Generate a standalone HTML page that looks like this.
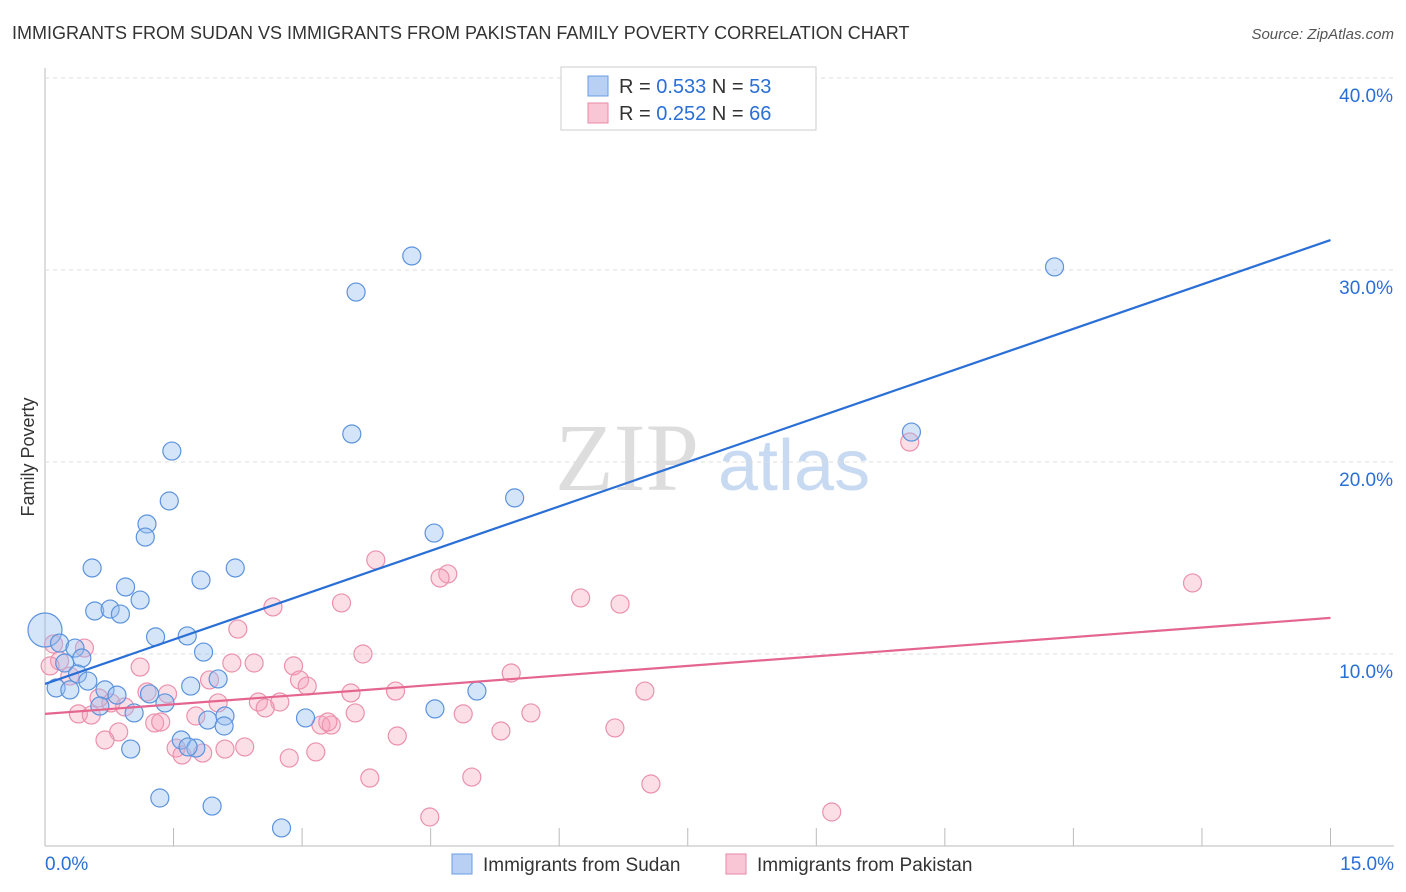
<!DOCTYPE html>
<html><head><meta charset="utf-8"><style>
body{margin:0;background:#fff;font-family:"Liberation Sans",sans-serif;}
#c{position:absolute;left:0;top:0;width:1406px;height:892px;}
</style></head><body>
<svg id="c" width="1406" height="892" xmlns="http://www.w3.org/2000/svg">
<text x="12" y="39" font-size="18" fill="#333">IMMIGRANTS FROM SUDAN VS IMMIGRANTS FROM PAKISTAN FAMILY POVERTY CORRELATION CHART</text>
<text x="1394" y="39" font-size="15" fill="#555" text-anchor="end" font-style="italic">Source: ZipAtlas.com</text>
<text transform="translate(34,457) rotate(-90)" font-size="18" fill="#333" text-anchor="middle">Family Poverty</text>
<text x="555" y="490" font-size="96" fill="#ddd" font-family="Liberation Serif">ZIP</text>
<text x="718" y="490" font-size="72" fill="#c8daf2">atlas</text>
<g id="grid"></g><g id="pts"></g><g id="lines"></g>
<g>
<rect x="561" y="67" width="255" height="63" fill="#fff" stroke="#ccc"/>
<rect x="588" y="76" width="20" height="20" fill="#b7d0f3" stroke="#6a9de0"/>
<rect x="588" y="103" width="20" height="20" fill="#f9c6d5" stroke="#e88aa8"/>
<text x="619" y="93" font-size="20" fill="#333">R = <tspan fill="#2a6fd6">0.533</tspan>   N = <tspan fill="#2a6fd6">53</tspan></text>
<text x="619" y="120" font-size="20" fill="#333">R = <tspan fill="#2a6fd6">0.252</tspan>   N = <tspan fill="#2a6fd6">66</tspan></text>
</g>
<g>
<rect x="452" y="854" width="20" height="20" fill="#b7d0f3" stroke="#6a9de0"/>
<text x="483" y="871" font-size="19" fill="#333">Immigrants from Sudan</text>
<rect x="726" y="854" width="20" height="20" fill="#f9c6d5" stroke="#e88aa8"/>
<text x="757" y="871" font-size="19" fill="#333">Immigrants from Pakistan</text>
</g>
</svg>
<script>
const xTicks=[0,1.5,3,4.5,6,7.5,9,10.5,12,13.5,15];
const yTicks=[10,20,30,40];
const sudanX=[4.28,11.78,3.63,3.58,1.48,10.11,5.48,1.45,1.19,1.17,4.54,0.55,2.22,1.82,0.94,1.11,0.58,0.76,0.88,1.29,1.66,0,0.17,0.35,0.43,1.85,0.23,0.38,0.50,0.13,0.29,1.70,2.02,0.70,0.84,1.22,1.40,0.64,1.04,5.04,4.55,3.04,1.90,2.10,2.09,1.59,1.76,1.67,1.00,1.34,1.95,2.76];
const sudanY=[30.73,30.16,28.85,21.46,20.57,21.56,18.13,17.97,16.77,16.09,16.30,14.48,14.48,13.85,13.49,12.81,12.24,12.34,12.08,10.89,10.94,11.25,10.57,10.31,9.79,10.10,9.53,8.96,8.59,8.23,8.13,8.33,8.70,8.13,7.86,7.92,7.45,7.29,6.93,8.07,7.14,6.67,6.56,6.77,6.25,5.52,5.10,5.16,5.05,2.50,2.08,0.94];
const pakX=[10.09,13.39,3.86,4.70,4.61,6.25,6.71,3.46,2.66,2.25,0.46,0.10,3.71,1.11,2.18,2.44,2.90,5.44,0.17,0.06,0.29,2.97,3.06,1.92,1.19,1.43,3.57,4.09,7.00,0.63,0.77,0.93,2.02,2.49,2.74,2.57,0.39,0.54,1.76,3.62,4.88,5.67,1.28,1.35,3.22,3.34,3.30,5.32,6.65,0.86,4.11,0.70,1.53,2.10,2.33,1.60,1.84,3.16,2.85,3.79,4.98,7.07,9.18,4.49];
const pakY=[21.04,13.70,14.90,14.17,13.96,12.92,12.60,12.66,12.45,11.30,10.31,10.52,10.00,9.32,9.53,9.53,9.38,9.01,9.64,9.38,8.85,8.65,8.33,8.65,8.02,7.92,7.97,8.07,8.07,7.71,7.45,7.24,7.45,7.50,7.50,7.19,6.88,6.82,6.77,6.93,6.88,6.93,6.41,6.46,6.30,6.30,6.46,5.99,6.15,5.94,5.73,5.52,5.10,5.05,5.16,4.74,4.84,4.90,4.58,3.54,3.59,3.23,1.77,1.51];
const sudanTrend=[8.44,31.56];
const pakTrend=[6.88,11.88];
const X=v=>45+v*(1285.5/15), Y=v=>846-v*19.2;
const NS="http://www.w3.org/2000/svg";
function mk(t,a,p){const e=document.createElementNS(NS,t);for(const k in a)e.setAttribute(k,a[k]);p.appendChild(e);return e;}
const g=document.getElementById('grid');
let ax=mk('line',{x1:45,y1:68,x2:45,y2:846,stroke:'#bbb'},g);


let bx=mk('line',{x1:45,y1:846,x2:1394,y2:846,stroke:'#bbb'},g);


yTicks.forEach(t=>{
 let l=mk('line',{x1:45,y1:Y(t),x2:1394,y2:Y(t),stroke:'#ddd','stroke-dasharray':'4,4'},g);
 
 
 let tx=mk('text',{x:1393,y:Y(t)+24,'font-size':19,fill:'#2a6fd6','text-anchor':'end'},g);
 tx.textContent=t.toFixed(1)+'%';
 
 
});
xTicks.forEach((t,i)=>{
 if(i==0)return;
 let l=mk('line',{x1:X(t),y1:828,x2:X(t),y2:846,stroke:'#bbb'},g);
 
 
});
[[0,'0.0%','start',45],[15,'15.0%','end',1394]].forEach(a=>{
 let tx=mk('text',{x:a[3],y:870,'font-size':19,fill:'#2a6fd6','text-anchor':a[2]},g);
 tx.textContent=a[1];
 
 
});
const p=document.getElementById('pts');
pakX.forEach((x,i)=>{
 let c=mk('circle',{cx:X(x),cy:Y(pakY[i]),r:9,fill:'rgba(245,160,185,0.35)',stroke:'#eb91ad','stroke-width':1.2},p);
 
 
});
sudanX.forEach((x,i)=>{
 let c=mk('circle',{cx:X(x),cy:Y(sudanY[i]),r:i==21?17:9,fill:'rgba(150,190,240,0.4)',stroke:'#5b93dd','stroke-width':1.2},p);
 
 
});
const L=document.getElementById('lines');
let a=mk('line',{x1:X(0),y1:Y(sudanTrend[0]),x2:X(15),y2:Y(sudanTrend[1]),stroke:'#2a6fd6','stroke-width':2.2},L);


let b=mk('line',{x1:X(0),y1:Y(pakTrend[0]),x2:X(15),y2:Y(pakTrend[1]),stroke:'#e4668f','stroke-width':2.2},L);


</script>
</body></html>
